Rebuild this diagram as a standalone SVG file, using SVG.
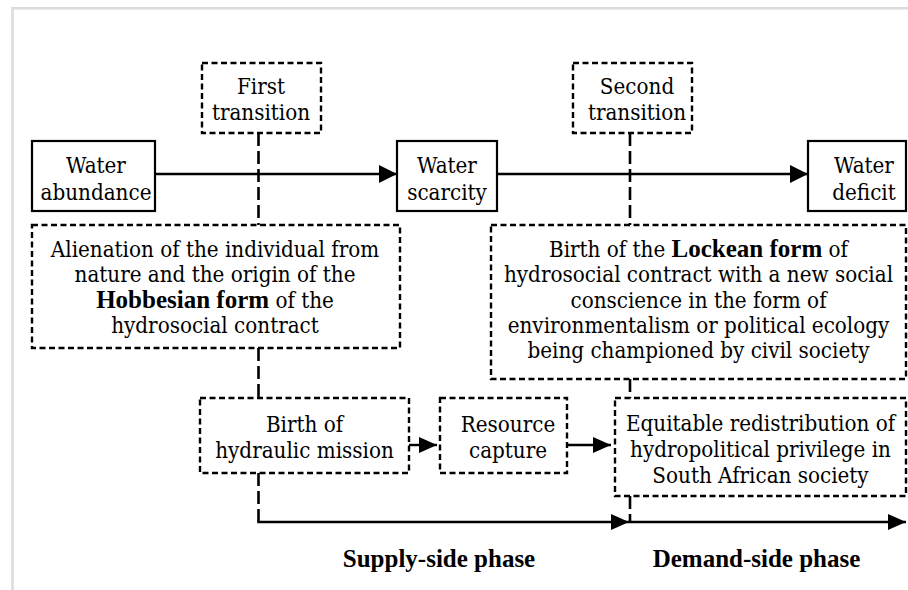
<svg xmlns="http://www.w3.org/2000/svg" width="908" height="590" viewBox="0 0 908 590">
  <style>
    text { font-family: "DejaVu Serif Condensed", "DejaVu Serif", serif; font-stretch: condensed; font-size: 22.2px; fill: #000; text-anchor: middle; }
    .b { font-family: "Liberation Serif", "DejaVu Serif", serif; font-stretch: normal; font-size: 25px; font-weight: bold; }
    .solid { fill: #fff; stroke: #000; stroke-width: 2.2; }
    .dash { fill: #fff; stroke: #000; stroke-width: 2.4; stroke-dasharray: 6 3.5; }
    .link { fill: none; stroke: #000; stroke-width: 2.6; stroke-dasharray: 13 5; }
    .arrow { fill: none; stroke: #000; stroke-width: 2.4; }
    .frame { fill: none; stroke: #dcdcdc; stroke-width: 2.6; }
  </style>
  <defs>
    <marker id="ah" markerWidth="18" markerHeight="18" refX="18" refY="9" orient="auto" markerUnits="userSpaceOnUse">
      <path d="M0,0 L18,9 L0,18 z" fill="#000"/>
    </marker>
    <marker id="ahs" markerWidth="18" markerHeight="16" refX="18" refY="8" orient="auto" markerUnits="userSpaceOnUse">
      <path d="M0,0 L18,8 L0,16 z" fill="#000"/>
    </marker>
  </defs>

  <rect width="908" height="590" fill="#fff"/>
  <path class="frame" d="M12.5,590 V8.3 H908"/>

  <!-- connectors -->
  <g id="connectors">
    <path class="link" d="M258.5,133 V225"/>
    <path class="link" d="M630,133 V225"/>
    <line class="arrow" x1="155" y1="174" x2="397" y2="174" marker-end="url(#ah)"/>
    <line class="arrow" x1="497" y1="174" x2="808" y2="174" marker-end="url(#ah)"/>
    <path class="link" d="M258.5,348 V398"/>
    <path class="link" d="M630,379 V398"/>
    <line class="arrow" x1="409" y1="445" x2="437" y2="445" marker-end="url(#ahs)"/>
    <line class="arrow" x1="567" y1="445" x2="611" y2="445" marker-end="url(#ahs)"/>
    <path class="link" d="M258.5,473 V522"/>
    <path class="link" d="M630,496 V522"/>
    <line class="arrow" x1="257.3" y1="522" x2="629" y2="522" marker-end="url(#ahs)"/>
    <line class="arrow" x1="628.8" y1="522" x2="906" y2="522" marker-end="url(#ahs)"/>
  </g>

  <g id="first-transition">
    <rect class="dash" x="202" y="63" width="119" height="70"/>
    <text x="261" y="94">First</text>
    <text x="261" y="120">transition</text>
  </g>

  <g id="second-transition">
    <rect class="dash" x="573" y="63" width="119" height="70"/>
    <text x="637" y="94">Second</text>
    <text x="637" y="120">transition</text>
  </g>

  <g id="water-abundance">
    <rect class="solid" x="32" y="141" width="123" height="70"/>
    <text x="96" y="173">Water</text>
    <text x="96" y="200">abundance</text>
  </g>

  <g id="water-scarcity">
    <rect class="solid" x="397" y="141" width="100" height="70"/>
    <text x="447" y="173">Water</text>
    <text x="447" y="200">scarcity</text>
  </g>

  <g id="water-deficit">
    <rect class="solid" x="808" y="141" width="98" height="70"/>
    <text x="864" y="173">Water</text>
    <text x="864" y="200">deficit</text>
  </g>

  <g id="hobbesian">
    <rect class="dash" x="32" y="225" width="368" height="123"/>
    <text x="215" y="256.5">Alienation of the individual from</text>
    <text x="215" y="282">nature and the origin of the</text>
    <text x="215" y="307.5"><tspan class="b">Hobbesian form</tspan> of the</text>
    <text x="215" y="333">hydrosocial contract</text>
  </g>

  <g id="lockean">
    <rect class="dash" x="491" y="225" width="415" height="154"/>
    <text x="698.5" y="256.5">Birth of the <tspan class="b">Lockean form</tspan> of</text>
    <text x="698.5" y="282">hydrosocial contract with a new social</text>
    <text x="698.5" y="307.5">conscience in the form of</text>
    <text x="698.5" y="333">environmentalism or political ecology</text>
    <text x="698.5" y="358">being championed by civil society</text>
  </g>

  <g id="hydraulic-mission">
    <rect class="dash" x="200" y="398" width="209" height="75"/>
    <text x="304.5" y="431.5">Birth of</text>
    <text x="304.5" y="458">hydraulic mission</text>
  </g>

  <g id="resource-capture">
    <rect class="dash" x="440" y="398" width="127" height="75"/>
    <text x="508" y="431.5">Resource</text>
    <text x="508" y="458">capture</text>
  </g>

  <g id="redistribution">
    <rect class="dash" x="615" y="398" width="291" height="98"/>
    <text x="760.5" y="430.5">Equitable redistribution of</text>
    <text x="760.5" y="457">hydropolitical privilege in</text>
    <text x="760.5" y="483">South African society</text>
  </g>

  <g id="phase-labels">
    <text class="b" x="439" y="567">Supply-side phase</text>
    <text class="b" x="756.5" y="567">Demand-side phase</text>
  </g>
</svg>
